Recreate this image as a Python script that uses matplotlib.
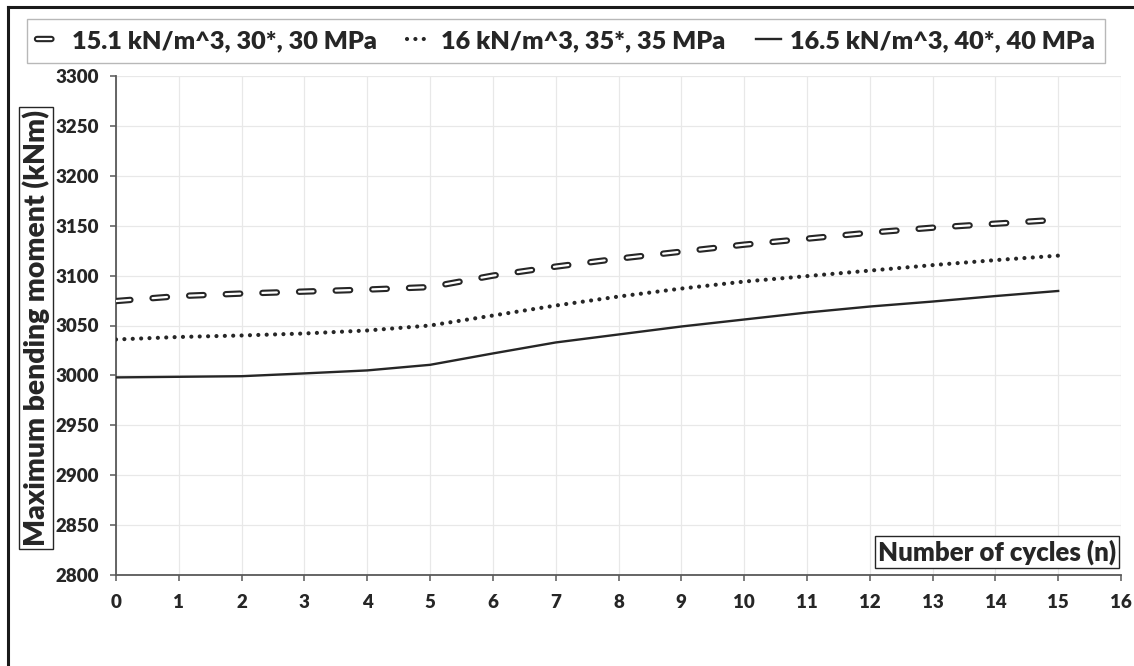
import matplotlib
matplotlib.use("Agg")
import matplotlib.pyplot as plt
import matplotlib.patheffects as pe
from matplotlib.lines import Line2D

cycles = list(range(16))
s1_label = "15.1 kN/m^3, 30*, 30 MPa"
s2_label = "16 kN/m^3, 35*, 35 MPa"
s3_label = "16.5 kN/m^3, 40*, 40 MPa"
s1 = [3074.5, 3079.5, 3082, 3084, 3086, 3088.5, 3100, 3109, 3117, 3124, 3131, 3137, 3143, 3148, 3152, 3156]
s2 = [3036, 3038.5, 3040, 3042, 3045, 3050, 3060, 3070, 3079, 3087, 3094, 3099.5, 3105, 3110.5, 3115.5, 3120]
s3 = [2998, 2998.6, 2999.2, 3002, 3005, 3010.6, 3022, 3033, 3041, 3049, 3056, 3063, 3069, 3074, 3079.5, 3084.6]
xticks = list(range(0, 17))
yticks = list(range(2800, 3301, 50))
xlabel = "Number of cycles (n)"
ylabel = "Maximum bending moment (kNm)"

plt.rcParams['font.family'] = ['Lato', 'DejaVu Sans']
W = 'heavy'
plt.rcParams['font.weight'] = W

fig = plt.figure(figsize=(11.34, 6.66), dpi=100)
ax = fig.add_axes([116/1134, 1-575/666, (1121-116)/1134, (575-76)/666])

ink = '#262626'
# dashed (outlined) series
ax.plot(cycles, s1, color='white', lw=1.6, ls=(0, (6.5, 10)), dash_capstyle='round',
        label=s1_label, zorder=3,
        path_effects=[pe.Stroke(linewidth=4.6, foreground=ink), pe.Normal()])
ax.plot(cycles, s2, color=ink, lw=3.0, ls=(0, (0.01, 2.0)), dash_capstyle='round',
        label=s2_label, zorder=3)
ax.plot(cycles, s3, color=ink, lw=1.7, ls='-', label=s3_label, zorder=3)

ax.set_xlim(0, 16)
ax.set_ylim(2800, 3300)
ax.set_xticks(xticks)
ax.set_yticks(yticks)
ax.grid(True, color='#e8e8e8', lw=0.9)
ax.set_axisbelow(True)
for s in ['top', 'right']:
    ax.spines[s].set_visible(False)
for s in ['left', 'bottom']:
    ax.spines[s].set_color('#595959')
    ax.spines[s].set_linewidth(1.3)
ax.tick_params(axis='both', colors='#595959', length=4, width=1.1, labelcolor=ink, labelsize=13.5)
ax.tick_params(axis='y', pad=8)
ax.tick_params(axis='x', pad=10)
for t in ax.get_xticklabels() + ax.get_yticklabels():
    t.set_fontweight(W)

ax.text(0.8766, 0.046, xlabel, transform=ax.transAxes, ha='center', va='center',
        fontsize=18.5, fontweight=W, color=ink,
        bbox=dict(boxstyle='square,pad=0.12', fc='white', ec=ink, lw=1))
fig.text(36/1134, 1-328/666, ylabel, rotation=90, ha='center', va='center',
         fontsize=20.3, fontweight=W, color=ink,
         bbox=dict(boxstyle='square,pad=0.1', fc='white', ec=ink, lw=1))

leg = fig.legend(loc='center', bbox_to_anchor=(566/1134, 1-41/666), ncol=3,
                 frameon=True, fancybox=False, edgecolor='#a6a6a6',
                 prop={'size': 18.2, 'weight': W}, handlelength=1.0,
                 handletextpad=0.35, columnspacing=1.2, borderpad=0.42)
leg.get_frame().set_linewidth(1.0)
for t in leg.get_texts():
    t.set_color(ink)

# figure outer frame (top and left edges visible)
fig.add_artist(Line2D([8/1134, 1.0], [1-7/666, 1-7/666], color='#1a1a1a', lw=2.2,
                      transform=fig.transFigure))
fig.add_artist(Line2D([8/1134, 8/1134], [0.0, 1-7/666], color='#1a1a1a', lw=2.2,
                      transform=fig.transFigure))

fig.savefig('out.png', dpi=100)
